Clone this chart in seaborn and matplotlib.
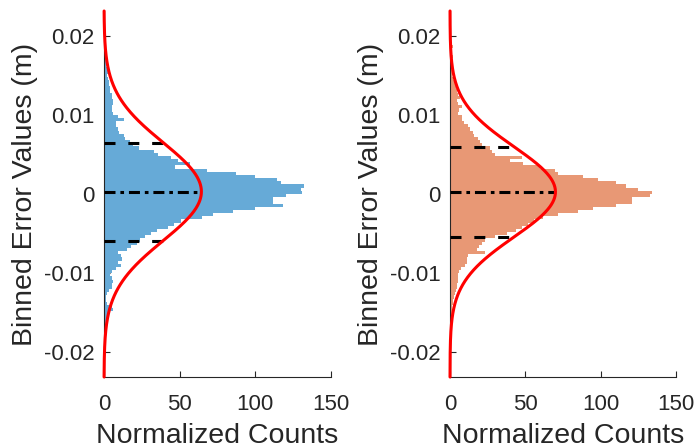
import numpy as np
import pandas as pd
import matplotlib
matplotlib.use('Agg')
import matplotlib.pyplot as plt
import seaborn as sns

# bin edges of the error histogram (m)
bin_edges = list(np.linspace(-0.02, 0.02, 101))

# normalized counts per bin, listed from the top bin (0.02) down to the bottom (-0.02)
counts_a = [0, 0, 0, 0, 0.5, 1, 1, 1, 1.5, 1.5,
            2, 2.5, 2, 2.5, 3, 3, 4, 4, 5, 5,
            6, 6, 5, 5, 6, 9, 13, 8, 8, 9,
            10, 13, 14, 17, 19, 23, 33, 36, 44, 49,
            57, 47, 68, 87, 100, 114, 117, 132, 130, 131,
            120, 112, 112, 118, 100, 85, 72, 65, 51, 46,
            42, 35, 31, 27, 24, 22, 18, 15, 9, 11,
            12, 9, 11, 8, 5, 4, 5, 6, 5, 5,
            3, 2, 1.5, 1, 2, 5, 6, 3, 2, 1.5,
            1, 1, 0.5, 0.5, 0.5, 0.5, 0, 0, 0, 0]
counts_b = [0.5, 0.5, 1, 2, 1.5, 1, 2, 1, 1, 0.5,
            1, 1, 1.5, 2, 3, 3, 4, 4.5, 5, 6.6,
            4.6, 5, 8, 6, 5.5, 8, 8, 9, 12, 13,
            15, 16, 18.6, 20, 21, 26.5, 28, 30, 48, 40,
            48.5, 60, 70, 72, 88, 98, 110, 117, 125, 134,
            133, 121, 121, 110, 95, 85, 72, 62, 56, 52,
            48, 44, 38, 30, 23, 21, 19, 18, 23, 12,
            11, 11, 10, 7, 6, 5.5, 5.5, 5, 4.6, 4.6,
            4, 3.3, 2.5, 2, 2, 1.5, 1.5, 1, 1, 1,
            0.5, 0.5, 0, 0, 0, 0, 0, 0, 0, 0]

# fitted normal distributions
mu_a, sigma_a = 0.0003, 0.0062
mu_b, sigma_b = 0.00027, 0.0057

y_ticks = [-0.02, -0.01, 0, 0.01, 0.02]
y_tick_labels = ['-0.02', '-0.01', '0', '0.01', '0.02']
x_ticks = [0, 50, 100, 150]
y_lim = 0.0231

color_a = '#66AAD7'
color_b = '#E89875'

sns.set_style('ticks')
plt.rcParams['font.family'] = ['Liberation Sans', 'DejaVu Sans']
plt.rcParams['axes.unicode_minus'] = False


def draw_panel(ax, counts, mu, sigma, color):
    edges = np.array(bin_edges)
    centers = (edges[:-1] + edges[1:]) / 2
    df = pd.DataFrame({'err': centers, 'cnt': counts[::-1]})
    sns.histplot(data=df, y='err', weights='cnt', bins=bin_edges, ax=ax,
                 color=color, alpha=1, linewidth=0, element='bars')

    peak = 1 / (sigma * np.sqrt(2 * np.pi))
    edge = peak * np.exp(-0.5)
    ax.plot([0, peak], [mu, mu], color='black', linewidth=2.2,
            linestyle=(0, (3.6, 1.6, 1.2, 1.6)), zorder=3)
    ax.plot([0, edge], [mu + sigma, mu + sigma], color='black', linewidth=2.2,
            linestyle=(0, (3.6, 4.2)), zorder=3)
    ax.plot([0, edge], [mu - sigma, mu - sigma], color='black', linewidth=2.2,
            linestyle=(0, (3.6, 4.2)), zorder=3)

    # normal fit drawn over the axis line, as in the original
    yy = np.linspace(-y_lim, y_lim, 500)
    pdf = np.exp(-(yy - mu) ** 2 / (2 * sigma ** 2)) / (sigma * np.sqrt(2 * np.pi))
    fit = pd.DataFrame({'y': yy, 'pdf': pdf})
    sns.lineplot(data=fit, x='pdf', y='y', orient='y', sort=False, ax=ax,
                 color='red', linewidth=2.2, zorder=4, clip_on=False)

    ax.set_xlim(0, 150)
    ax.set_ylim(-y_lim, y_lim)
    ax.set_xticks(x_ticks)
    ax.set_yticks(y_ticks)
    ax.set_yticklabels(y_tick_labels)
    ax.tick_params(direction='in', length=4, labelsize=16, colors='#262626')
    ax.tick_params(axis='y', pad=7)
    ax.tick_params(axis='x', pad=12)
    ax.set_xlabel('Normalized Counts', fontsize=20.5, color='#262626', labelpad=6)
    ax.set_ylabel('Binned Error Values (m)', fontsize=20.5, color='#262626', labelpad=4)
    for s in ['top', 'right']:
        ax.spines[s].set_visible(False)
    for s in ['left', 'bottom']:
        ax.spines[s].set_color('#262626')
        ax.spines[s].set_linewidth(0.8)


fig = plt.figure(figsize=(6.99, 4.48), dpi=100)
ax1 = fig.add_axes([104 / 699, 71 / 448, 227 / 699, 366 / 448])
ax2 = fig.add_axes([450 / 699, 71 / 448, 226 / 699, 366 / 448])

draw_panel(ax1, counts_a, mu_a, sigma_a, color_a)
draw_panel(ax2, counts_b, mu_b, sigma_b, color_b)

plt.savefig('out.png', dpi=100)
